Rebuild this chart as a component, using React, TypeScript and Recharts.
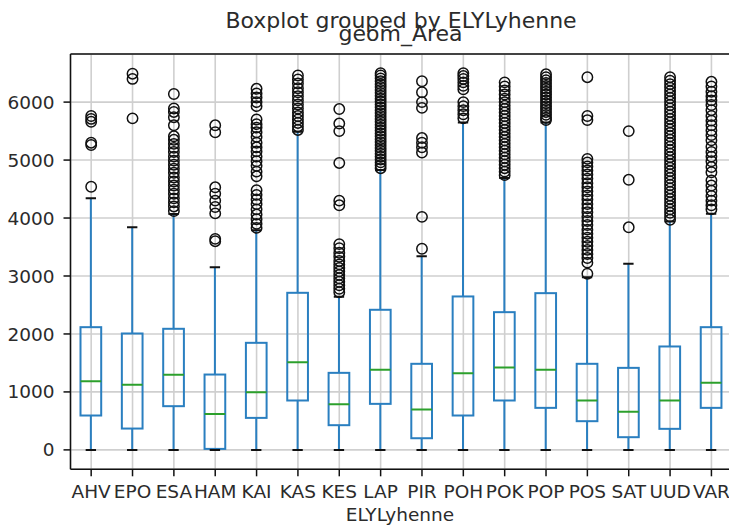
import React from 'react';
import {
  ComposedChart,
  Bar,
  Scatter,
  XAxis,
  YAxis,
  CartesianGrid,
  ReferenceLine,
} from 'recharts';

// Regions (ELY centre abbreviations)
const categories = ['AHV', 'EPO', 'ESA', 'HAM', 'KAI', 'KAS', 'KES', 'LAP', 'PIR', 'POH', 'POK', 'POP', 'POS', 'SAT', 'UUD', 'VAR'];

// Five-number summaries of geom_Area per region
const whiskerLow = [0, 0, 0, 0, 0, 0, 0, 0, 0, 0, 0, 0, 0, 0, 0, 0];
const q1 = [593, 368, 754, 17, 552, 852, 426, 794, 201, 593, 852, 725, 495, 219, 363, 725];
const median = [1185, 1122, 1295, 621, 995, 1513, 788, 1381, 696, 1323, 1421, 1381, 852, 656, 852, 1157];
const q3 = [2117, 2008, 2089, 1300, 1847, 2710, 1329, 2417, 1485, 2647, 2376, 2704, 1485, 1415, 1784, 2117];
const whiskerHigh = [4340, 3840, 4070, 3150, 3790, 5490, 2640, 4830, 3340, 5650, 4690, 5650, 2980, 3210, 3940, 4074];

// Values beyond the whiskers, one list per region
const outliersAHV = [4540, 5260, 5300, 5660, 5710, 5760];
const outliersEPO = [5720, 6400, 6490];
const outliersESA = [4120, 4200, 4270, 4340, 4420, 4490, 4560, 4630, 4700, 4780, 4850, 4920, 4990, 5060, 5140, 5210, 5280, 5350, 5410, 5600, 5740, 5830, 5890, 6140];
const outliersHAM = [3600, 3640, 4080, 4190, 4300, 4420, 4530, 5480, 5600];
const outliersKAI = [3830, 3900, 3980, 4060, 4150, 4240, 4320, 4400, 4480, 4720, 4800, 4900, 4980, 5060, 5150, 5220, 5300, 5400, 5480, 5560, 5620, 5700, 5930, 6000, 6080, 6150, 6230];
const outliersKAS = [5520, 5580, 5640, 5700, 5760, 5820, 5890, 5960, 6030, 6100, 6170, 6240, 6320, 6390, 6460];
const outliersKES = [2720, 2780, 2840, 2900, 2960, 3020, 3080, 3140, 3200, 3260, 3330, 3400, 3480, 3550, 4220, 4300, 4950, 5500, 5630, 5880];
const outliersLAP = [4860, 4910, 4960, 5010, 5060, 5110, 5160, 5210, 5260, 5310, 5360, 5410, 5460, 5510, 5560, 5610, 5660, 5710, 5760, 5810, 5860, 5910, 5960, 6010, 6060, 6110, 6160, 6210, 6260, 6310, 6360, 6410, 6460, 6500];
const outliersPIR = [3470, 4020, 5130, 5220, 5300, 5380, 5900, 6000, 6170, 6360];
const outliersPOH = [5720, 5790, 5860, 5930, 6000, 6220, 6280, 6340, 6400, 6450, 6500];
const outliersPOK = [4740, 4800, 4860, 4920, 4980, 5040, 5100, 5160, 5220, 5280, 5340, 5400, 5460, 5520, 5580, 5640, 5700, 5760, 5820, 5880, 5940, 6000, 6060, 6130, 6200, 6270, 6340];
const outliersPOP = [5690, 5730, 5780, 5830, 5880, 5930, 5980, 6030, 6080, 6130, 6180, 6230, 6280, 6330, 6380, 6430, 6480];
const outliersPOS = [3040, 3230, 3310, 3380, 3450, 3520, 3590, 3660, 3730, 3800, 3880, 3950, 4020, 4100, 4170, 4240, 4320, 4390, 4460, 4530, 4600, 4680, 4750, 4820, 4890, 4960, 5020, 5690, 5760, 6430];
const outliersSAT = [3840, 4660, 5500];
const outliersUUD = [3970, 4030, 4090, 4150, 4210, 4270, 4330, 4390, 4450, 4510, 4570, 4630, 4690, 4750, 4810, 4870, 4930, 4990, 5050, 5110, 5170, 5230, 5290, 5350, 5410, 5470, 5530, 5590, 5650, 5710, 5770, 5830, 5890, 5950, 6010, 6070, 6130, 6190, 6250, 6310, 6370, 6430];
const outliersVAR = [4150, 4220, 4300, 4380, 4470, 4560, 4650, 4790, 4880, 4980, 5060, 5140, 5230, 5340, 5430, 5510, 5600, 5680, 5760, 5860, 5950, 6030, 6100, 6180, 6270, 6350];

const outliers = [
  outliersAHV, outliersEPO, outliersESA, outliersHAM, outliersKAI, outliersKAS, outliersKES, outliersLAP,
  outliersPIR, outliersPOH, outliersPOK, outliersPOP, outliersPOS, outliersSAT, outliersUUD, outliersVAR,
];

const yTicks = [0, 1000, 2000, 3000, 4000, 5000, 6000];

const boxRows = categories.map((name, i) => ({
  name,
  lo: whiskerLow[i],
  q1: q1[i],
  med: median[i],
  q3: q3[i],
  hi: whiskerHigh[i],
}));

const flierPoints = categories.flatMap((_, i) => outliers[i].map((v) => ({ pos: i + 1, v })));

const BOX = '#2a7fc0';
const MED = '#2ca02c';
const INK = '#2b2b2b';
const FONT = '"DejaVu Sans", sans-serif';
const LW = 2;

// Whisker-to-whisker bar, drawn as a matplotlib style box
function BoxShape(props: any) {
  const { x, y, width, height, payload } = props;
  const top = Math.min(y, y + height);
  const h = Math.abs(height);
  const bottom = top + h;
  const { lo, hi } = payload;
  const k = hi === lo ? 0 : h / (hi - lo);
  const py = (v: number) => bottom - (v - lo) * k;
  const cx = x + width / 2;
  const capHalf = width / 4;
  return (
    <g>
      <line x1={cx} x2={cx} y1={py(lo)} y2={py(payload.q1)} stroke={BOX} strokeWidth={LW} />
      <line x1={cx} x2={cx} y1={py(payload.q3)} y2={py(hi)} stroke={BOX} strokeWidth={LW} />
      <rect
        x={x}
        y={py(payload.q3)}
        width={width}
        height={py(payload.q1) - py(payload.q3)}
        fill="none"
        stroke={BOX}
        strokeWidth={LW}
      />
      <line x1={x} x2={x + width} y1={py(payload.med)} y2={py(payload.med)} stroke={MED} strokeWidth={LW} />
      <line x1={cx - capHalf} x2={cx + capHalf} y1={py(lo)} y2={py(lo)} stroke="#111" strokeWidth={LW} />
      <line x1={cx - capHalf} x2={cx + capHalf} y1={py(hi)} y2={py(hi)} stroke="#111" strokeWidth={LW} />
    </g>
  );
}

function Flier(props: any) {
  const { cx, cy } = props;
  return <circle cx={cx} cy={cy} r={5.2} fill="none" stroke="#111" strokeWidth={1.5} />;
}

export default function App() {
  return (
    <div
      style={{
        position: 'fixed',
        left: 0,
        top: 0,
        width: 729,
        height: 526,
        overflow: 'hidden',
        background: '#fff',
      }}
    >
      <ComposedChart
        width={740}
        height={526}
        data={boxRows}
        margin={{ top: 54, right: 7.9, bottom: 0, left: 0 }}
        barCategoryGap={0}
        style={{ fontFamily: FONT }}
      >
        <CartesianGrid stroke="#cfcfcf" strokeWidth={1.6} />
        <XAxis
          dataKey="name"
          type="category"
          interval={0}
          height={56.7}
          tickSize={7}
          tickMargin={9}
          axisLine={{ stroke: '#111', strokeWidth: 1.5 }}
          tickLine={{ stroke: '#111', strokeWidth: 1.5 }}
          tick={{ fill: INK, fontSize: 18.5, fontFamily: FONT }}
        />
        <XAxis xAxisId="num" type="number" dataKey="pos" domain={[0.5, 16.5]} allowDataOverflow hide />
        <YAxis
          type="number"
          width={70.5}
          domain={[-335, 6830]}
          allowDataOverflow
          ticks={yTicks}
          tickSize={7}
          tickMargin={9}
          axisLine={{ stroke: '#111', strokeWidth: 1.5 }}
          tickLine={{ stroke: '#111', strokeWidth: 1.5 }}
          tick={{ fill: INK, fontSize: 18.5, fontFamily: FONT }}
        />
        <ReferenceLine y={6830} stroke="#111" strokeWidth={1.5} />
        <Bar
          dataKey={(d: any) => [d.lo, d.hi]}
          barSize={20.7}
          shape={BoxShape}
          isAnimationActive={false}
        />
        <Scatter
          data={flierPoints}
          dataKey="v"
          xAxisId="num"
          shape={Flier}
          isAnimationActive={false}
        />
      </ComposedChart>
      <svg
        width={729}
        height={526}
        style={{ position: 'absolute', left: 0, top: 0, pointerEvents: 'none' }}
      >
        <text x={401} y={28} textAnchor="middle" fontSize={22} fontFamily={FONT} fill={INK}>
          Boxplot grouped by ELYLyhenne
        </text>
        <text x={400.5} y={41} textAnchor="middle" fontSize={22} fontFamily={FONT} fill={INK}>
          geom_Area
        </text>
        <text x={400} y={521} textAnchor="middle" fontSize={18.5} fontFamily={FONT} fill={INK}>
          ELYLyhenne
        </text>
      </svg>
    </div>
  );
}
